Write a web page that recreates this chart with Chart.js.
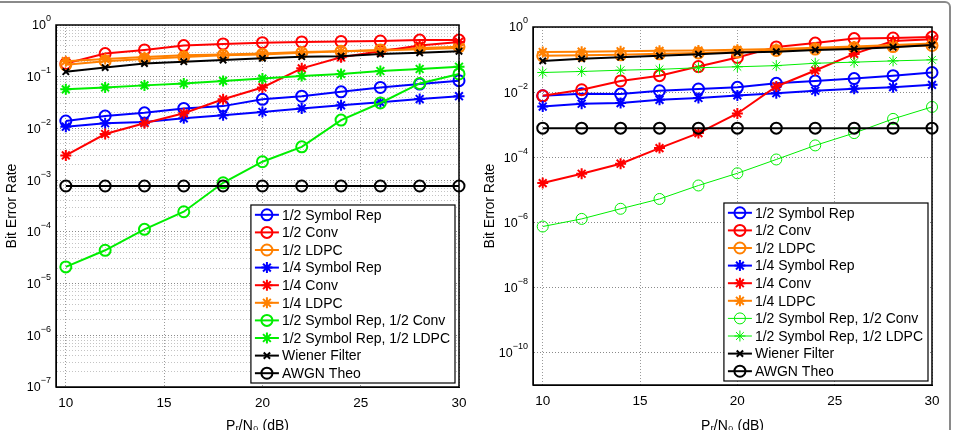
<!DOCTYPE html>
<html lang="en">
  <head>
    <meta charset="UTF-8" />
    <title>Bit Error Rate vs Pr/N0</title>
    <style>
      html, body { margin: 0; padding: 0; background: #fff; }
      body { width: 956px; height: 430px; position: relative; overflow: hidden; }
      .frame {
        position: absolute; left: -6px; top: 1px; width: 957px; height: 440px;
        border: 2px solid #8a8a8a; border-top-right-radius: 6px; box-sizing: border-box;
      }
      .panel { position: absolute; top: 0; width: 478px; height: 430px; }
      #left { left: 0; }
      #right { left: 478px; }
    </style>
  </head>
  <body>
    <div class="frame"></div>
    <div class="panel" id="left"><canvas id="chartLeft" width="478" height="430"></canvas></div>
    <div class="panel" id="right"><canvas id="chartRight" width="478" height="430"></canvas></div>

    <script src="https://cdn.jsdelivr.net/npm/chart.js@4/dist/chart.umd.min.js"></script>
    <script>
      // x values (dB)
      var snr = [10, 12, 14, 16, 18, 20, 22, 24, 26, 28, 30];
      var xTicks = [10, 15, 20, 25, 30];

      var labels = [
        "1/2 Symbol Rep", "1/2 Conv", "1/2 LDPC",
        "1/4 Symbol Rep", "1/4 Conv", "1/4 LDPC",
        "1/2 Symbol Rep, 1/2 Conv", "1/2 Symbol Rep, 1/2 LDPC",
        "Wiener Filter", "AWGN Theo"
      ];

      // left panel
      var leftHalfSymRep = [0.0139, 0.0174, 0.020, 0.0244, 0.027, 0.0366, 0.042, 0.051, 0.062, 0.072, 0.084];
      var leftHalfConv = [0.18, 0.28, 0.33, 0.40, 0.43, 0.455, 0.47, 0.48, 0.49, 0.51, 0.51];
      var leftHalfLdpc = [0.17, 0.20, 0.22, 0.24, 0.26, 0.27, 0.29, 0.31, 0.33, 0.36, 0.38];
      var leftQuarterSymRep = [0.0108, 0.0126, 0.0133, 0.0157, 0.018, 0.0208, 0.0244, 0.028, 0.032, 0.037, 0.042];
      var leftQuarterConv = [0.003, 0.0078, 0.0126, 0.0196, 0.0366, 0.062, 0.145, 0.237, 0.31, 0.40, 0.47];
      var leftQuarterLdpc = [0.20, 0.22, 0.24, 0.26, 0.27, 0.28, 0.30, 0.31, 0.32, 0.34, 0.36];
      var leftSymConv = [2.1e-5, 4.4e-5, 1.12e-4, 2.45e-4, 8.9e-4, 2.27e-3, 4.4e-3, 0.0145, 0.031, 0.074, 0.113];
      var leftSymLdpc = [0.057, 0.062, 0.068, 0.074, 0.083, 0.092, 0.103, 0.113, 0.129, 0.141, 0.156];
      var leftWiener = [0.125, 0.15, 0.18, 0.195, 0.21, 0.227, 0.244, 0.25, 0.275, 0.29, 0.31];
      var leftAwgn = [7.7e-4, 7.7e-4, 7.7e-4, 7.7e-4, 7.7e-4, 7.7e-4, 7.7e-4, 7.7e-4, 7.7e-4, 7.7e-4, 7.7e-4];

      // right panel
      var rightHalfSymRep = [0.0077, 0.0089, 0.0087, 0.011, 0.0124, 0.014, 0.0186, 0.022, 0.026, 0.032, 0.04];
      var rightHalfConv = [0.0077, 0.0118, 0.022, 0.032, 0.061, 0.116, 0.245, 0.32, 0.44, 0.46, 0.49];
      var rightHalfLdpc = [0.13, 0.135, 0.14, 0.15, 0.16, 0.17, 0.19, 0.21, 0.23, 0.25, 0.27];
      var rightQuarterSymRep = [0.0036, 0.0044, 0.0046, 0.0058, 0.0066, 0.0079, 0.0092, 0.011, 0.0126, 0.0142, 0.0167];
      var rightQuarterConv = [1.6e-5, 3.1e-5, 6.3e-5, 1.9e-4, 5.5e-4, 2.2e-3, 0.0149, 0.046, 0.149, 0.37, 0.42];
      var rightQuarterLdpc = [0.17, 0.175, 0.18, 0.185, 0.19, 0.20, 0.21, 0.23, 0.25, 0.28, 0.31];
      var rightSymConv = [7.4e-7, 1.27e-6, 2.6e-6, 5.2e-6, 1.35e-5, 3.2e-5, 8.5e-5, 2.3e-4, 5.5e-4, 1.5e-3, 3.5e-3];
      var rightSymLdpc = [0.04, 0.043, 0.047, 0.05, 0.056, 0.06, 0.065, 0.077, 0.083, 0.091, 0.098];
      var rightWiener = [0.091, 0.105, 0.118, 0.13, 0.146, 0.164, 0.175, 0.198, 0.212, 0.239, 0.28];
      var rightAwgn = [7.8e-4, 7.8e-4, 7.8e-4, 7.8e-4, 7.8e-4, 7.8e-4, 7.8e-4, 7.8e-4, 7.8e-4, 7.8e-4, 7.8e-4];

      var colors = ["#0000ff", "#ff0000", "#ff8000", "#0000ff", "#ff0000", "#ff8000", "#00ee00", "#00ee00", "#000000", "#000000"];
      var styles = ["circle", "circle", "circle", "star", "star", "star", "circle", "star", "crossRot", "circle"];

      var FONT = "'Liberation Sans', Arial, Helvetica, sans-serif";

      // exponent of a power of ten, or null
      function powExp(v) {
        var e = Math.log10(v);
        if (Math.abs(e - Math.round(e)) > 1e-6) return null;
        return Math.round(e);
      }

      function makeDatasets(series, thinGreen) {
        return series.map(function (d, i) {
          var thin = thinGreen && (i === 6 || i === 7);
          return {
            label: labels[i],
            data: d,
            borderColor: colors[i],
            backgroundColor: "rgba(0,0,0,0)",
            pointBackgroundColor: "rgba(0,0,0,0)",
            pointBorderColor: colors[i],
            pointStyle: styles[i],
            pointRadius: styles[i] === "crossRot" ? 4.5 : 5.5,
            pointBorderWidth: thin ? 1 : 2,
            borderWidth: thin ? 1 : 2,
            tension: 0,
            clip: false,
            order: 20 - i
          };
        });
      }

      // 10^n tick labels with a raised exponent
      var powTicks = {
        id: "powTicks",
        afterDraw: function (chart) {
          var ctx = chart.ctx;
          var y = chart.scales.y;
          ctx.save();
          ctx.fillStyle = "#000";
          ctx.textAlign = "right";
          ctx.textBaseline = "middle";
          y.ticks.forEach(function (t) {
            var e = powExp(t.value);
            if (e === null) return;
            var py = y.getPixelForValue(t.value);
            var right = chart.chartArea.left - 5;
            var exp = e === 0 ? "0" : "\u2212" + Math.abs(e);
            ctx.font = "9px " + FONT;
            var ew = ctx.measureText(exp).width;
            ctx.fillText(exp, right, py - 6);
            ctx.font = "12.5px " + FONT;
            ctx.fillText("10", right - ew, py + 1);
          });
          ctx.restore();
        }
      };

      // box around plot + legend inside the bottom right corner
      var boxLegend = {
        id: "boxLegend",
        afterDatasetsDraw: function (chart) {
          var ctx = chart.ctx;
          var a = chart.chartArea;
          ctx.save();
          ctx.strokeStyle = "#000";
          ctx.lineWidth = 1.5;
          ctx.strokeRect(a.left, a.top, a.right - a.left, a.bottom - a.top);

          var ds = chart.data.datasets;
          var rowH = 17.6;
          ctx.font = "14px " + FONT;
          var maxW = 0;
          ds.forEach(function (d) { maxW = Math.max(maxW, ctx.measureText(d.label).width); });
          var w = 32 + maxW + 4;
          var h = rowH * ds.length + 2;
          var x0 = a.right - 4 - w;
          var y0 = a.bottom - 4 - h;
          ctx.fillStyle = "#fff";
          ctx.fillRect(x0, y0, w, h);
          ctx.lineWidth = 1.2;
          ctx.strokeRect(x0, y0, w, h);

          ds.forEach(function (d, i) {
            var cy = y0 + 1 + rowH * (i + 0.5);
            ctx.strokeStyle = d.borderColor;
            ctx.lineWidth = d.borderWidth;
            ctx.beginPath();
            ctx.moveTo(x0 + 4, cy);
            ctx.lineTo(x0 + 28, cy);
            ctx.stroke();
            ctx.lineWidth = d.pointBorderWidth;
            ctx.fillStyle = "rgba(0,0,0,0)";
            Chart.helpers.drawPoint(ctx, { pointStyle: d.pointStyle, radius: d.pointRadius, rotation: 0, borderWidth: d.pointBorderWidth }, x0 + 16, cy);
            ctx.fillStyle = "#000";
            ctx.textBaseline = "middle";
            ctx.textAlign = "left";
            ctx.fillText(d.label, x0 + 31, cy + 1);
          });
          ctx.restore();
        }
      };

      function makeChart(id, series, opts) {
        var ctx = document.getElementById(id).getContext("2d");
        return new Chart(ctx, {
          type: "line",
          data: { datasets: makeDatasets(series, opts.thinGreen).map(function (d) {
            d.data = d.data.map(function (v, k) { return { x: snr[k], y: v }; });
            return d;
          }) },
          options: {
            responsive: false,
            animation: false,
            layout: { padding: { top: opts.top, right: opts.right, left: 0, bottom: 0 } },
            plugins: { legend: { display: false }, tooltip: { enabled: false } },
            scales: {
              x: {
                type: "linear",
                min: 9.5,
                max: 30,
                afterBuildTicks: function (scale) {
                  scale.ticks = xTicks.map(function (v) { return { value: v }; });
                },
                afterFit: function (scale) { scale.height = 430 - opts.bottom; },
                ticks: { color: "#000", padding: 8, font: { family: FONT, size: 13.5 } },
                grid: { color: "#9a9a9a", drawTicks: false },
                border: { color: "#000", width: 1, dash: [1, 2] },
                title: {
                  display: true,
                  text: "P\u1d63/N\u2080 (dB)",
                  color: "#000",
                  font: { family: FONT, size: 14 },
                  padding: { top: 2, bottom: -5 }
                }
              },
              y: {
                type: "logarithmic",
                min: opts.yMin,
                max: 1,
                afterBuildTicks: function (scale) { scale.ticks = opts.yTicks.map(function (v) { return { value: v }; }); },
                afterFit: function (scale) { scale.width = opts.left; },
                ticks: {
                  display: false,
                  autoSkip: false,
                  callback: function (v) { var e = powExp(v); return e === null ? "" : "10^" + e; }
                },
                grid: {
                  drawTicks: false,
                  color: function (c) { return powExp(c.tick.value) !== null ? "#8a8a8a" : "#c4c4c4"; }
                },
                border: { color: "#000", width: 1, dash: [1, 2] },
                title: {
                  display: true,
                  text: "Bit Error Rate",
                  color: "#000",
                  font: { family: FONT, size: 14 },
                  padding: { top: 4, bottom: 2 }
                }
              }
            }
          },
          plugins: [boxLegend, powTicks]
        });
      }

      // left: every decade with minor ticks, right: every second decade only
      var leftTicks = [];
      for (var e = -7; e < 0; e++) {
        for (var m = 1; m <= 9; m++) leftTicks.push(m * Math.pow(10, e));
      }
      leftTicks.push(1);
      var rightTicks = [1e-10, 1e-8, 1e-6, 1e-4, 1e-2, 1];

      makeChart("chartLeft", [leftHalfSymRep, leftHalfConv, leftHalfLdpc, leftQuarterSymRep, leftQuarterConv,
        leftQuarterLdpc, leftSymConv, leftSymLdpc, leftWiener, leftAwgn],
        { top: 25, right: 478 - 459, bottom: 387, left: 56, yMin: 1e-7, yTicks: leftTicks, thinGreen: false });

      makeChart("chartRight", [rightHalfSymRep, rightHalfConv, rightHalfLdpc, rightQuarterSymRep, rightQuarterConv,
        rightQuarterLdpc, rightSymConv, rightSymLdpc, rightWiener, rightAwgn],
        { top: 27, right: 478 - 454, bottom: 385, left: 55, yMin: 1e-11, yTicks: rightTicks, thinGreen: true });
    </script>
  </body>
</html>
